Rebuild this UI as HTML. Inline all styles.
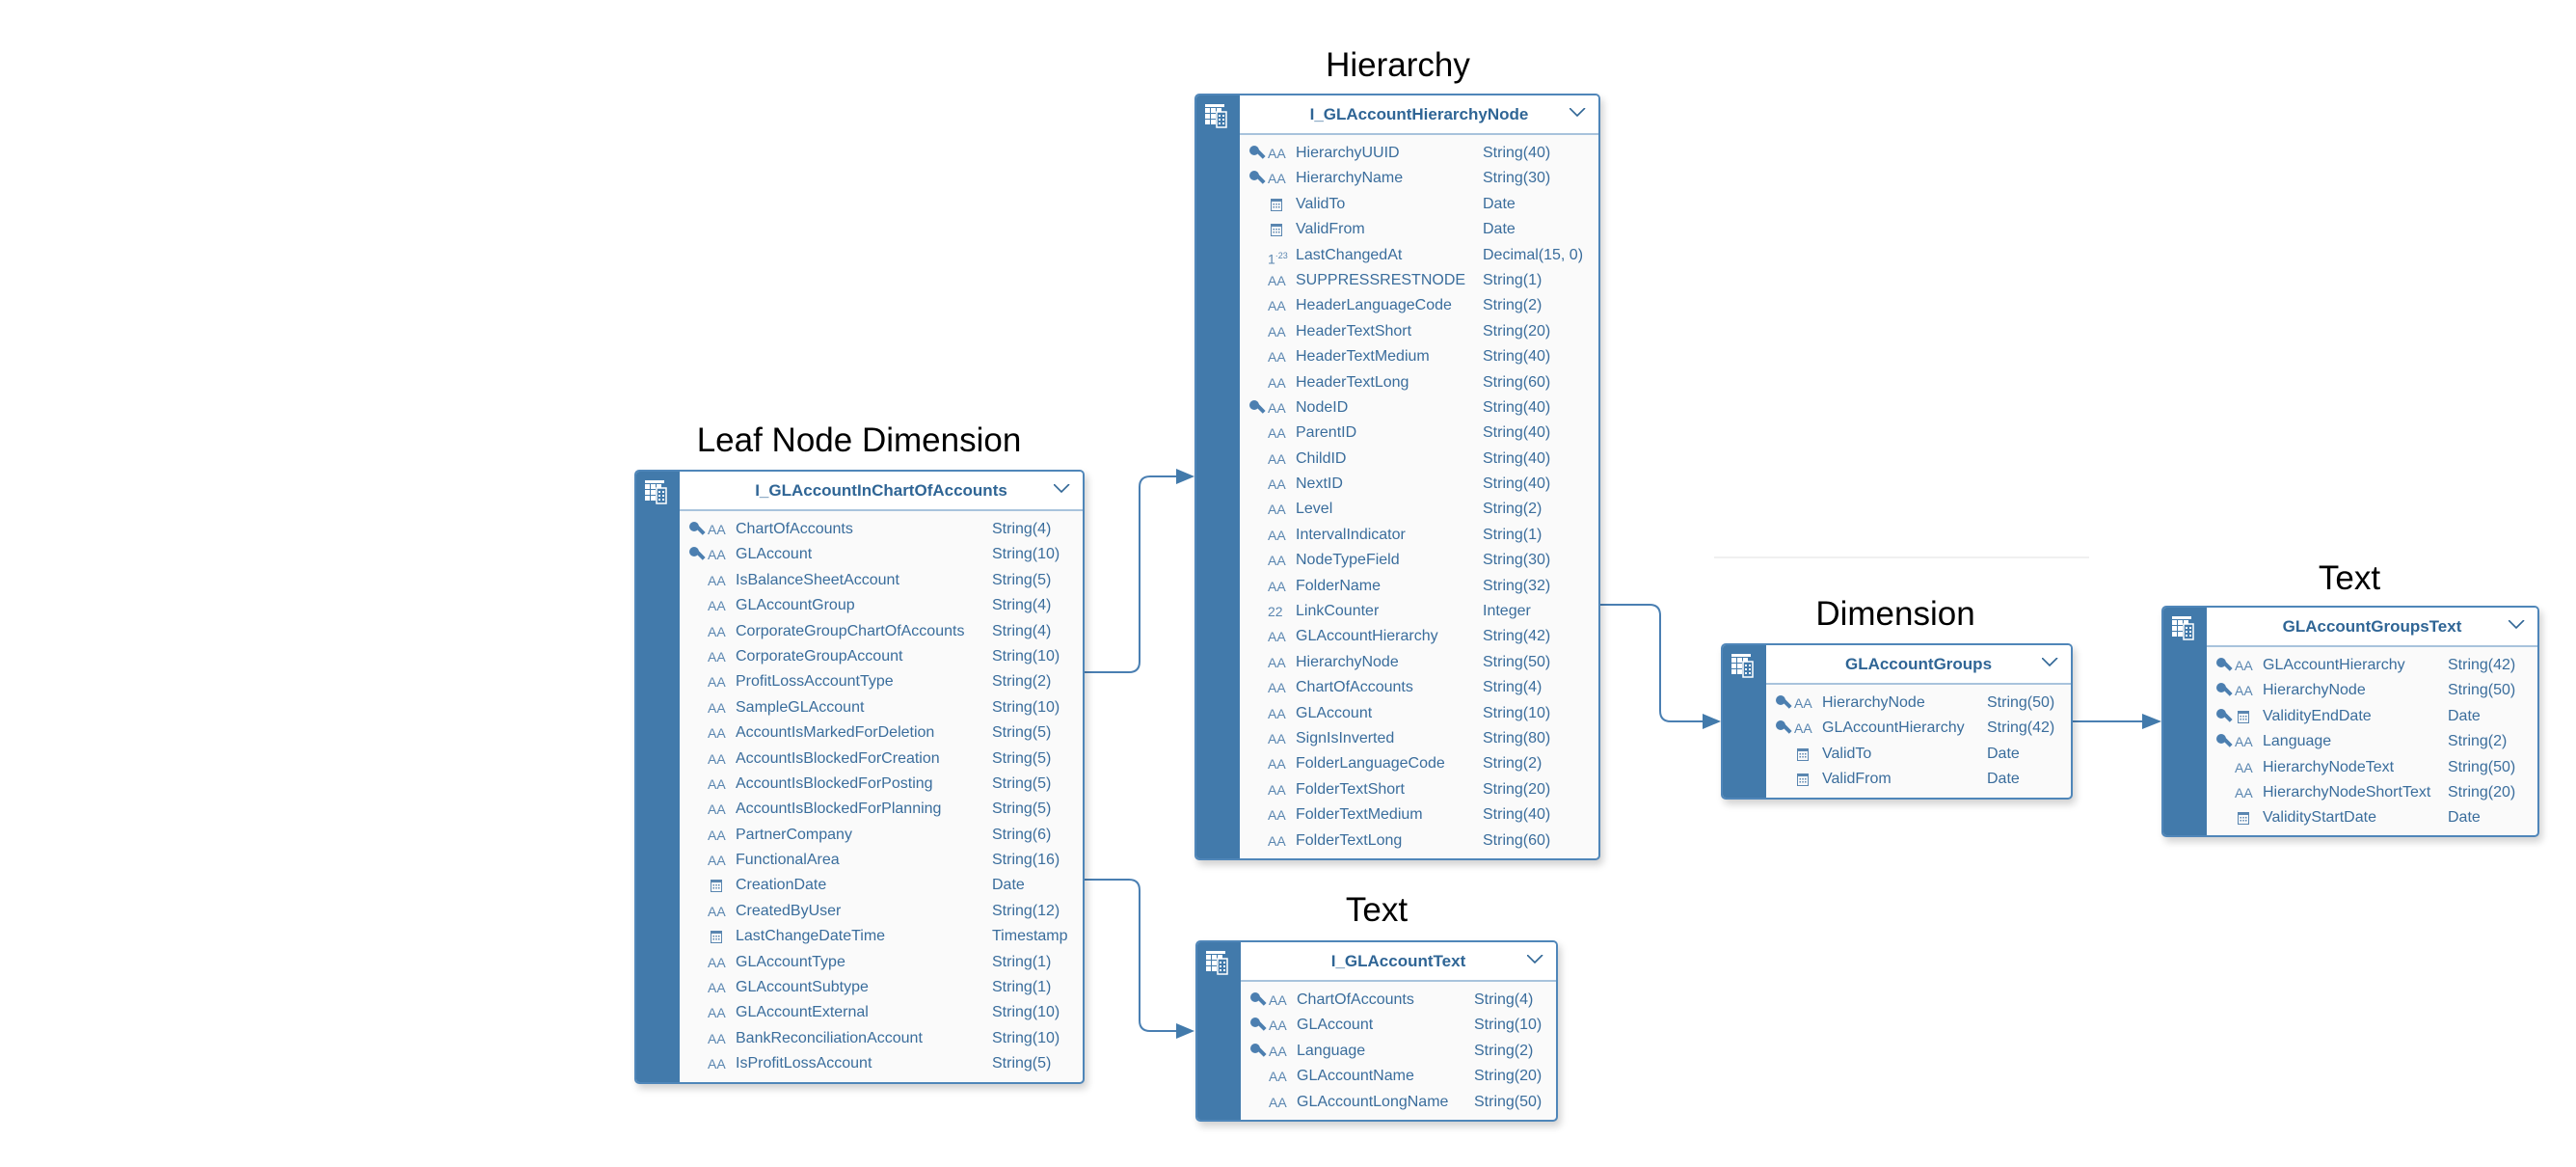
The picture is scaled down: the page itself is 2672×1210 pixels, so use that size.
<!DOCTYPE html>
<html><head><meta charset="utf-8"><style>
*{margin:0;padding:0;box-sizing:border-box}
body{width:2672px;height:1210px;background:#fff;position:relative;overflow:hidden;font-family:"Liberation Sans",sans-serif}
.ttl{position:absolute;font-size:35px;color:#000;transform:translate(-50%,-50%);white-space:nowrap}
.box{position:absolute;border:2px solid #4f86b9;border-radius:5px;background:#fafafa;box-shadow:3px 5px 8px rgba(0,0,0,.18);overflow:hidden}
.strip{position:absolute;left:0;top:0;bottom:0;width:45px;background:#427aab}
.strip svg{position:absolute;left:9px;top:9px}
.hd{position:absolute;left:45px;right:0;top:0;height:41px;background:#fff;border-bottom:2px solid #a8c3dc;color:#2f6595;font-weight:bold;font-size:17px;text-align:center;line-height:40px}
.hd .cv{position:absolute;right:12px;top:13px}
.bd{position:absolute;left:45px;right:0;top:44px;}
.r{position:relative;height:26.4px;line-height:26.4px;font-size:16px;color:#3a6d9c;white-space:nowrap}
.r .k{position:absolute;left:9px;top:4px}
.r .a{position:absolute;left:29px;font-size:14px;color:#5a86b0}
.r .c{position:absolute;left:32px;top:6px}
.r .n{position:absolute;left:58px}
.r .t{position:absolute}
</style></head><body>
<svg width="0" height="0" style="position:absolute"><defs>
<g id="key"><circle cx="6" cy="6" r="5" fill="#4c7fb0"/><rect x="7" y="7" width="4" height="11" transform="rotate(-45 7 7)" fill="#4c7fb0"/></g>
<g id="cal"><rect x="0.5" y="1.5" width="11" height="12" fill="none" stroke="#5a86b0"/><rect x="0.5" y="1.5" width="11" height="2.5" fill="#5a86b0"/><g fill="#5a86b0"><rect x="2.5" y="6" width="1.5" height="1.5"/><rect x="5.3" y="6" width="1.5" height="1.5"/><rect x="8" y="6" width="1.5" height="1.5"/><rect x="2.5" y="9" width="1.5" height="1.5"/><rect x="5.3" y="9" width="1.5" height="1.5"/><rect x="8" y="9" width="1.5" height="1.5"/></g></g>
<g id="tbl" fill="#fff"><rect x="0" y="0" width="20" height="3"/><rect x="0" y="4" width="5" height="5"/><rect x="6" y="4" width="5" height="5"/><rect x="12" y="4" width="5" height="5"/><rect x="0" y="10" width="5" height="5"/><rect x="6" y="10" width="5" height="5"/><rect x="0" y="16" width="5" height="5"/><rect x="6" y="16" width="5" height="5"/><rect x="12" y="8" width="10" height="16" fill="#427aab" stroke="#fff" stroke-width="1.5"/><rect x="14" y="11" width="2" height="2"/><rect x="18" y="11" width="2" height="2"/><rect x="14" y="15" width="2" height="2"/><rect x="18" y="15" width="2" height="2"/><rect x="14" y="19" width="2" height="2"/><rect x="18" y="19" width="2" height="2"/></g>
<g id="cv"><polyline points="0,0 8,8 16,0" fill="none" stroke="#2f6595" stroke-width="1.6"/></g>
</defs></svg>

<svg style="position:absolute;left:0;top:0" width="2672" height="1210">
<g fill="none" stroke="#4a7fb2" stroke-width="2">
<path d="M1125 697 H1171 Q1182 697 1182 686 V505 Q1182 494 1193 494 H1222"/>
<path d="M1125 912 H1171 Q1182 912 1182 923 V1058 Q1182 1069 1193 1069 H1222"/>
<path d="M1660 627 H1711 Q1722 627 1722 638 V737 Q1722 748 1733 748 H1768"/>
<path d="M2150 748 H2224"/>
</g>
<g fill="#427aab">
<polygon points="1220,486 1239,494 1220,502"/>
<polygon points="1220,1061 1239,1069 1220,1077"/>
<polygon points="1766,740 1785,748 1766,756"/>
<polygon points="2222,740 2242,748 2222,756"/>
</g>
<line x1="1778" y1="578" x2="2167" y2="578" stroke="#f0f0f0" stroke-width="2"/>
</svg>

<div class="ttl" style="left:891px;top:457px">Leaf Node Dimension</div>
<div class="ttl" style="left:1450px;top:68px">Hierarchy</div>
<div class="ttl" style="left:1428px;top:944px">Text</div>
<div class="ttl" style="left:1966px;top:637px">Dimension</div>
<div class="ttl" style="left:2437px;top:600px">Text</div>

<div class="box" style="left:658px;top:487px;width:467px;height:637px">
<div class="strip"><svg width="26" height="26"><use href="#tbl"/></svg></div>
<div class="hd">I_GLAccountInChartOfAccounts<svg class="cv" width="18" height="10"><use href="#cv"/></svg></div>
<div class="bd" style="padding-top:3px">
<div class="r"><svg class="k" width="18" height="18"><use href="#key"/></svg><span class="a">AA</span><span class="n">ChartOfAccounts</span><span class="t" style="left:324px">String(4)</span></div>
<div class="r"><svg class="k" width="18" height="18"><use href="#key"/></svg><span class="a">AA</span><span class="n">GLAccount</span><span class="t" style="left:324px">String(10)</span></div>
<div class="r"><span class="a">AA</span><span class="n">IsBalanceSheetAccount</span><span class="t" style="left:324px">String(5)</span></div>
<div class="r"><span class="a">AA</span><span class="n">GLAccountGroup</span><span class="t" style="left:324px">String(4)</span></div>
<div class="r"><span class="a">AA</span><span class="n">CorporateGroupChartOfAccounts</span><span class="t" style="left:324px">String(4)</span></div>
<div class="r"><span class="a">AA</span><span class="n">CorporateGroupAccount</span><span class="t" style="left:324px">String(10)</span></div>
<div class="r"><span class="a">AA</span><span class="n">ProfitLossAccountType</span><span class="t" style="left:324px">String(2)</span></div>
<div class="r"><span class="a">AA</span><span class="n">SampleGLAccount</span><span class="t" style="left:324px">String(10)</span></div>
<div class="r"><span class="a">AA</span><span class="n">AccountIsMarkedForDeletion</span><span class="t" style="left:324px">String(5)</span></div>
<div class="r"><span class="a">AA</span><span class="n">AccountIsBlockedForCreation</span><span class="t" style="left:324px">String(5)</span></div>
<div class="r"><span class="a">AA</span><span class="n">AccountIsBlockedForPosting</span><span class="t" style="left:324px">String(5)</span></div>
<div class="r"><span class="a">AA</span><span class="n">AccountIsBlockedForPlanning</span><span class="t" style="left:324px">String(5)</span></div>
<div class="r"><span class="a">AA</span><span class="n">PartnerCompany</span><span class="t" style="left:324px">String(6)</span></div>
<div class="r"><span class="a">AA</span><span class="n">FunctionalArea</span><span class="t" style="left:324px">String(16)</span></div>
<div class="r"><svg class="c" width="13" height="15"><use href="#cal"/></svg><span class="n">CreationDate</span><span class="t" style="left:324px">Date</span></div>
<div class="r"><span class="a">AA</span><span class="n">CreatedByUser</span><span class="t" style="left:324px">String(12)</span></div>
<div class="r"><svg class="c" width="13" height="15"><use href="#cal"/></svg><span class="n">LastChangeDateTime</span><span class="t" style="left:324px">Timestamp</span></div>
<div class="r"><span class="a">AA</span><span class="n">GLAccountType</span><span class="t" style="left:324px">String(1)</span></div>
<div class="r"><span class="a">AA</span><span class="n">GLAccountSubtype</span><span class="t" style="left:324px">String(1)</span></div>
<div class="r"><span class="a">AA</span><span class="n">GLAccountExternal</span><span class="t" style="left:324px">String(10)</span></div>
<div class="r"><span class="a">AA</span><span class="n">BankReconciliationAccount</span><span class="t" style="left:324px">String(10)</span></div>
<div class="r"><span class="a">AA</span><span class="n">IsProfitLossAccount</span><span class="t" style="left:324px">String(5)</span></div>
</div></div>

<div class="box" style="left:1239px;top:97px;width:421px;height:795px">
<div class="strip"><svg width="26" height="26"><use href="#tbl"/></svg></div>
<div class="hd">I_GLAccountHierarchyNode<svg class="cv" width="18" height="10"><use href="#cv"/></svg></div>
<div class="bd" style="padding-top:3px">
<div class="r"><svg class="k" width="18" height="18"><use href="#key"/></svg><span class="a">AA</span><span class="n">HierarchyUUID</span><span class="t" style="left:252px">String(40)</span></div>
<div class="r"><svg class="k" width="18" height="18"><use href="#key"/></svg><span class="a">AA</span><span class="n">HierarchyName</span><span class="t" style="left:252px">String(30)</span></div>
<div class="r"><svg class="c" width="13" height="15"><use href="#cal"/></svg><span class="n">ValidTo</span><span class="t" style="left:252px">Date</span></div>
<div class="r"><svg class="c" width="13" height="15"><use href="#cal"/></svg><span class="n">ValidFrom</span><span class="t" style="left:252px">Date</span></div>
<div class="r"><span class="a">1<sup style="font-size:9px">·23</sup></span><span class="n">LastChangedAt</span><span class="t" style="left:252px">Decimal(15, 0)</span></div>
<div class="r"><span class="a">AA</span><span class="n">SUPPRESSRESTNODE</span><span class="t" style="left:252px">String(1)</span></div>
<div class="r"><span class="a">AA</span><span class="n">HeaderLanguageCode</span><span class="t" style="left:252px">String(2)</span></div>
<div class="r"><span class="a">AA</span><span class="n">HeaderTextShort</span><span class="t" style="left:252px">String(20)</span></div>
<div class="r"><span class="a">AA</span><span class="n">HeaderTextMedium</span><span class="t" style="left:252px">String(40)</span></div>
<div class="r"><span class="a">AA</span><span class="n">HeaderTextLong</span><span class="t" style="left:252px">String(60)</span></div>
<div class="r"><svg class="k" width="18" height="18"><use href="#key"/></svg><span class="a">AA</span><span class="n">NodeID</span><span class="t" style="left:252px">String(40)</span></div>
<div class="r"><span class="a">AA</span><span class="n">ParentID</span><span class="t" style="left:252px">String(40)</span></div>
<div class="r"><span class="a">AA</span><span class="n">ChildID</span><span class="t" style="left:252px">String(40)</span></div>
<div class="r"><span class="a">AA</span><span class="n">NextID</span><span class="t" style="left:252px">String(40)</span></div>
<div class="r"><span class="a">AA</span><span class="n">Level</span><span class="t" style="left:252px">String(2)</span></div>
<div class="r"><span class="a">AA</span><span class="n">IntervalIndicator</span><span class="t" style="left:252px">String(1)</span></div>
<div class="r"><span class="a">AA</span><span class="n">NodeTypeField</span><span class="t" style="left:252px">String(30)</span></div>
<div class="r"><span class="a">AA</span><span class="n">FolderName</span><span class="t" style="left:252px">String(32)</span></div>
<div class="r"><span class="a">22</span><span class="n">LinkCounter</span><span class="t" style="left:252px">Integer</span></div>
<div class="r"><span class="a">AA</span><span class="n">GLAccountHierarchy</span><span class="t" style="left:252px">String(42)</span></div>
<div class="r"><span class="a">AA</span><span class="n">HierarchyNode</span><span class="t" style="left:252px">String(50)</span></div>
<div class="r"><span class="a">AA</span><span class="n">ChartOfAccounts</span><span class="t" style="left:252px">String(4)</span></div>
<div class="r"><span class="a">AA</span><span class="n">GLAccount</span><span class="t" style="left:252px">String(10)</span></div>
<div class="r"><span class="a">AA</span><span class="n">SignIsInverted</span><span class="t" style="left:252px">String(80)</span></div>
<div class="r"><span class="a">AA</span><span class="n">FolderLanguageCode</span><span class="t" style="left:252px">String(2)</span></div>
<div class="r"><span class="a">AA</span><span class="n">FolderTextShort</span><span class="t" style="left:252px">String(20)</span></div>
<div class="r"><span class="a">AA</span><span class="n">FolderTextMedium</span><span class="t" style="left:252px">String(40)</span></div>
<div class="r"><span class="a">AA</span><span class="n">FolderTextLong</span><span class="t" style="left:252px">String(60)</span></div>
</div></div>

<div class="box" style="left:1240px;top:975px;width:376px;height:188px">
<div class="strip"><svg width="26" height="26"><use href="#tbl"/></svg></div>
<div class="hd">I_GLAccountText<svg class="cv" width="18" height="10"><use href="#cv"/></svg></div>
<div class="bd" style="padding-top:3px">
<div class="r"><svg class="k" width="18" height="18"><use href="#key"/></svg><span class="a">AA</span><span class="n">ChartOfAccounts</span><span class="t" style="left:242px">String(4)</span></div>
<div class="r"><svg class="k" width="18" height="18"><use href="#key"/></svg><span class="a">AA</span><span class="n">GLAccount</span><span class="t" style="left:242px">String(10)</span></div>
<div class="r"><svg class="k" width="18" height="18"><use href="#key"/></svg><span class="a">AA</span><span class="n">Language</span><span class="t" style="left:242px">String(2)</span></div>
<div class="r"><span class="a">AA</span><span class="n">GLAccountName</span><span class="t" style="left:242px">String(20)</span></div>
<div class="r"><span class="a">AA</span><span class="n">GLAccountLongName</span><span class="t" style="left:242px">String(50)</span></div>
</div></div>

<div class="box" style="left:1785px;top:667px;width:365px;height:162px">
<div class="strip"><svg width="26" height="26"><use href="#tbl"/></svg></div>
<div class="hd">GLAccountGroups<svg class="cv" width="18" height="10"><use href="#cv"/></svg></div>
<div class="bd" style="padding-top:3px">
<div class="r"><svg class="k" width="18" height="18"><use href="#key"/></svg><span class="a">AA</span><span class="n">HierarchyNode</span><span class="t" style="left:229px">String(50)</span></div>
<div class="r"><svg class="k" width="18" height="18"><use href="#key"/></svg><span class="a">AA</span><span class="n">GLAccountHierarchy</span><span class="t" style="left:229px">String(42)</span></div>
<div class="r"><svg class="c" width="13" height="15"><use href="#cal"/></svg><span class="n">ValidTo</span><span class="t" style="left:229px">Date</span></div>
<div class="r"><svg class="c" width="13" height="15"><use href="#cal"/></svg><span class="n">ValidFrom</span><span class="t" style="left:229px">Date</span></div>
</div></div>

<div class="box" style="left:2242px;top:628px;width:392px;height:240px">
<div class="strip"><svg width="26" height="26"><use href="#tbl"/></svg></div>
<div class="hd">GLAccountGroupsText<svg class="cv" width="18" height="10"><use href="#cv"/></svg></div>
<div class="bd" style="padding-top:3px">
<div class="r"><svg class="k" width="18" height="18"><use href="#key"/></svg><span class="a">AA</span><span class="n">GLAccountHierarchy</span><span class="t" style="left:250px">String(42)</span></div>
<div class="r"><svg class="k" width="18" height="18"><use href="#key"/></svg><span class="a">AA</span><span class="n">HierarchyNode</span><span class="t" style="left:250px">String(50)</span></div>
<div class="r"><svg class="k" width="18" height="18"><use href="#key"/></svg><svg class="c" width="13" height="15"><use href="#cal"/></svg><span class="n">ValidityEndDate</span><span class="t" style="left:250px">Date</span></div>
<div class="r"><svg class="k" width="18" height="18"><use href="#key"/></svg><span class="a">AA</span><span class="n">Language</span><span class="t" style="left:250px">String(2)</span></div>
<div class="r"><span class="a">AA</span><span class="n">HierarchyNodeText</span><span class="t" style="left:250px">String(50)</span></div>
<div class="r"><span class="a">AA</span><span class="n">HierarchyNodeShortText</span><span class="t" style="left:250px">String(20)</span></div>
<div class="r"><svg class="c" width="13" height="15"><use href="#cal"/></svg><span class="n">ValidityStartDate</span><span class="t" style="left:250px">Date</span></div>
</div></div>
</body></html>
